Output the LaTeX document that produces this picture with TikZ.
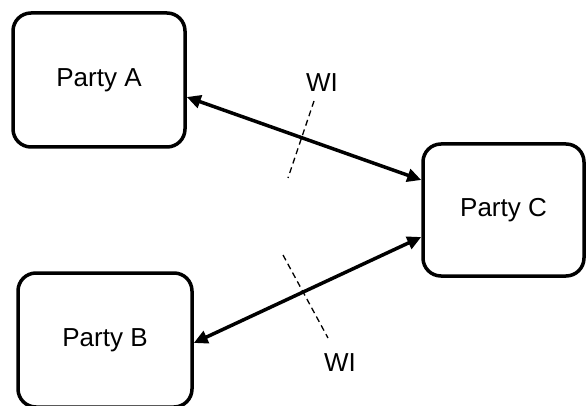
\documentclass[tikz,border=0pt]{standalone}
\usepackage{fontspec}
\setmainfont{Liberation Sans}
\usetikzlibrary{arrows.meta}
\begin{document}
\begin{tikzpicture}[x=1pt,y=1pt,
  party/.style={draw, line width=3.5pt, rounded corners=18pt, inner sep=0pt,
    font=\fontsize{26}{30}\selectfont},
  link/.style={line width=3.5pt, {Triangle[length=14pt,width=13pt]}-{Triangle[length=14pt,width=13pt]}},
  cut/.style={line width=1.3pt, dash pattern=on 6pt off 4pt},
  lbl/.style={font=\fontsize{26}{30}\selectfont, inner sep=0pt}]
\useasboundingbox (0,0) rectangle (586,405);
\node[party, minimum width=172pt, minimum height=134pt] (A) at (99,325) {Party A};
\node[party, minimum width=174pt, minimum height=134pt] (B) at (105,65) {Party B};
\node[party, minimum width=161pt, minimum height=132pt] (C) at (503.5,195) {Party C};
\draw[link] ([yshift=-17pt]A.east) -- ([yshift=30pt]C.west);
\draw[link] ([yshift=-3pt]B.east) -- ([yshift=-27pt]C.west);
\coordinate (u1) at (314,304);
\coordinate (u2) at (288,227);
\coordinate (l1) at (283,150);
\coordinate (l2) at (328,67);
\draw[cut] (u1) -- (u2);
\draw[cut] (l1) -- (l2);
\node[lbl] (w1) at (322,322) {WI};
\node[lbl] (w2) at (340,42) {WI};
\end{tikzpicture}
\end{document}
